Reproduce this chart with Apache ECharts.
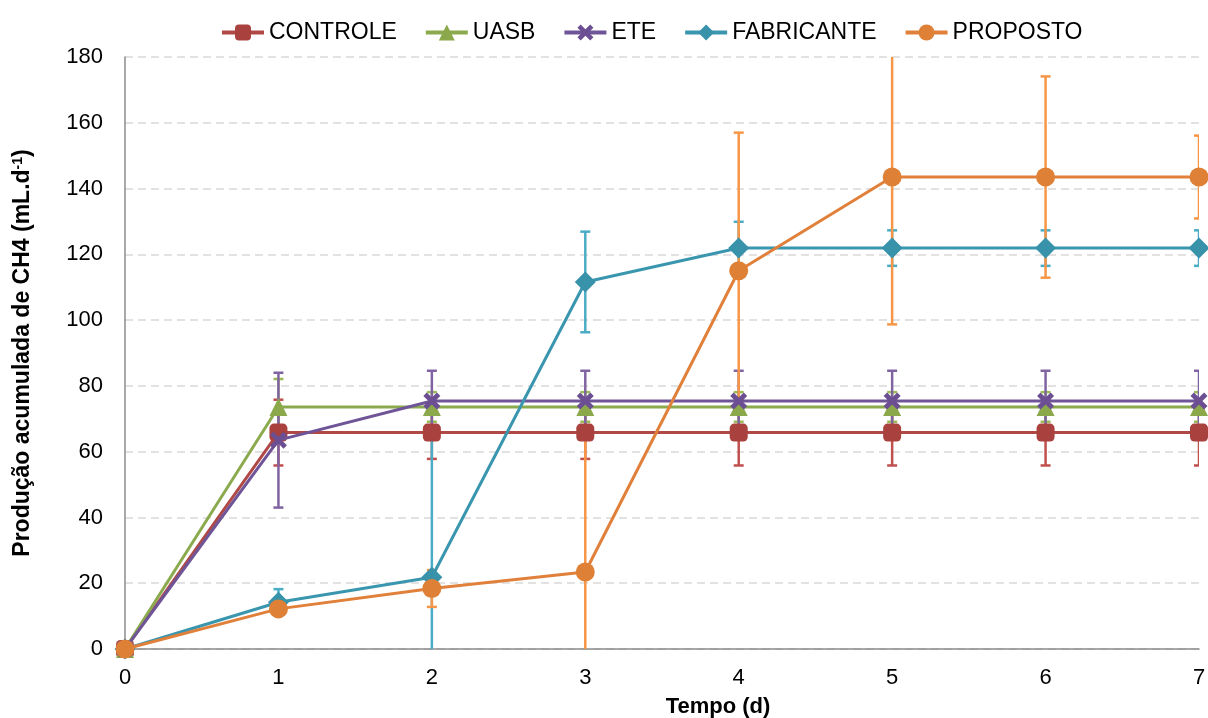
<!DOCTYPE html>
<html><head><meta charset="utf-8">
<script src="https://cdn.jsdelivr.net/npm/echarts@6/dist/echarts.min.js"></script>
<style>html,body{margin:0;padding:0;background:#fff}#c{width:1208px;height:718px}</style>
</head><body><div id="c"></div>
<script>
const days = [0, 1, 2, 3, 4, 5, 6, 7];
const controle = [0, 65.8, 65.8, 65.8, 65.8, 65.8, 65.8, 65.8];
const controleErr = [0, 10, 8, 8, 10, 10, 10, 10];
const uasb = [0, 73.6, 73.6, 73.6, 73.6, 73.6, 73.6, 73.6];
const uasbErr = [0, 8.5, 4.5, 4.5, 4.5, 4.5, 4.5, 4.5];
const ete = [0, 63.5, 75.4, 75.4, 75.4, 75.4, 75.4, 75.4];
const eteErr = [0, 20.5, 9.2, 9.2, 9.2, 9.2, 9.2, 9.2];
const fabricante = [0, 14.2, 21.8, 111.6, 121.9, 121.9, 121.9, 121.9];
const fabricanteErr = [0, 4, 44, 15.3, 8, 5.4, 5.4, 5.4];
const proposto = [0, 12.2, 18.4, 23.4, 115, 143.5, 143.5, 143.5];
const propostoErr = [0, 0, 5.6, 42, 42, 44.8, 30.6, 12.6];
const yTicks = [0, 20, 40, 60, 80, 100, 120, 140, 160, 180];

const defs = [
  {name: 'CONTROLE', v: controle, e: controleErr, line: '#B04845', mark: '#A9413E', err: '#C0504D', symbol: 'roundRect', size: 18},
  {name: 'UASB', v: uasb, e: uasbErr, line: '#8BAA4D', mark: '#8BA84B', err: '#9BBB59', symbol: 'triangle', size: 18},
  {name: 'ETE', v: ete, e: eteErr, line: '#6F5597', mark: '#6B4F92', err: '#8064A2', symbol: 'path://M2,0 L5,3 L8,0 L10,2 L7,5 L10,8 L8,10 L5,7 L2,10 L0,8 L3,5 L0,2 Z', size: 17},
  {name: 'FABRICANTE', v: fabricante, e: fabricanteErr, line: '#3A96AE', mark: '#3792AA', err: '#4BACC6', symbol: 'diamond', size: 21},
  {name: 'PROPOSTO', v: proposto, e: propostoErr, line: '#E0803A', mark: '#DE8035', err: '#F79646', symbol: 'circle', size: 19}
];

const series = [];
defs.forEach((d, i) => {
  series.push({
    type: 'custom', name: d.name + '_err', clip: true, z: 1 + i,
    silent: true,
    data: days.map((x, k) => [x, d.v[k] - d.e[k], d.v[k] + d.e[k]]),
    renderItem: function (params, api) {
      const lo = api.coord([api.value(0), api.value(1)]);
      const hi = api.coord([api.value(0), api.value(2)]);
      if (Math.abs(hi[1] - lo[1]) < 0.5) return null;
      const w = 5;
      const st = {stroke: d.err, lineWidth: 2.5};
      return {type: 'group', children: [
        {type: 'line', shape: {x1: lo[0], y1: lo[1], x2: hi[0], y2: hi[1]}, style: st},
        {type: 'line', shape: {x1: lo[0] - w, y1: lo[1], x2: lo[0] + w, y2: lo[1]}, style: st},
        {type: 'line', shape: {x1: hi[0] - w, y1: hi[1], x2: hi[0] + w, y2: hi[1]}, style: st}
      ]};
    }
  });
});
defs.forEach((d, i) => {
  series.push({
    type: 'line', name: d.name, z: 10 + i,
    data: days.map((x, k) => [x, d.v[k]]),
    symbol: d.symbol, symbolSize: d.size, showAllSymbol: true,
    lineStyle: {color: d.line, width: 3},
    itemStyle: {color: d.mark},
    clip: false
  });
});

const FONT = 'Liberation Sans, Arial, sans-serif';
const chart = echarts.init(document.getElementById('c'));
chart.setOption({
  animation: false,
  textStyle: {fontFamily: FONT},
  legend: {
    data: defs.map(d => d.name),
    top: 16, left: 215,
    itemWidth: 42, itemHeight: 20, itemGap: 27,
    lineStyle: {width: 4},
    textStyle: {fontSize: 23, color: '#000', fontFamily: FONT}
  },
  grid: {left: 125, right: 9, top: 57, bottom: 69, containLabel: false, outerBoundsMode: 'none'},
  xAxis: {
    type: 'value', min: 0, max: 7, interval: 1,
    name: 'Tempo (d)', nameLocation: 'middle', nameGap: 47,
    nameTextStyle: {fontSize: 22, fontWeight: 'bold', color: '#000', padding: [0, 0, 0, 112]},
    axisLine: {show: true, lineStyle: {color: '#8c8c8c', width: 1.5}},
    axisTick: {show: false},
    axisLabel: {fontSize: 22, color: '#000', margin: 18},
    splitLine: {show: false}
  },
  yAxis: {
    type: 'value', min: 0, max: 180, interval: 20,
    name: 'Produção acumulada de CH4 (mL.d{s|-1})', nameLocation: 'middle', nameGap: 90, nameRotate: 90,
    nameTextStyle: {fontSize: 23, fontWeight: 'bold', color: '#000',
      rich: {s: {fontSize: 14, fontWeight: 'bold', color: '#000', verticalAlign: 'top', padding: [0, 0, 10, 0]}}},
    axisLine: {show: true, lineStyle: {color: '#8c8c8c', width: 1.5}},
    axisTick: {show: false},
    axisLabel: {fontSize: 22, color: '#000', margin: 22, formatter: v => yTicks.includes(v) ? String(v) : ''},
    splitLine: {show: true, lineStyle: {color: '#d9d9d9', type: [8, 5], width: 1.5}}
  },
  series: series
});
</script>
</body></html>
